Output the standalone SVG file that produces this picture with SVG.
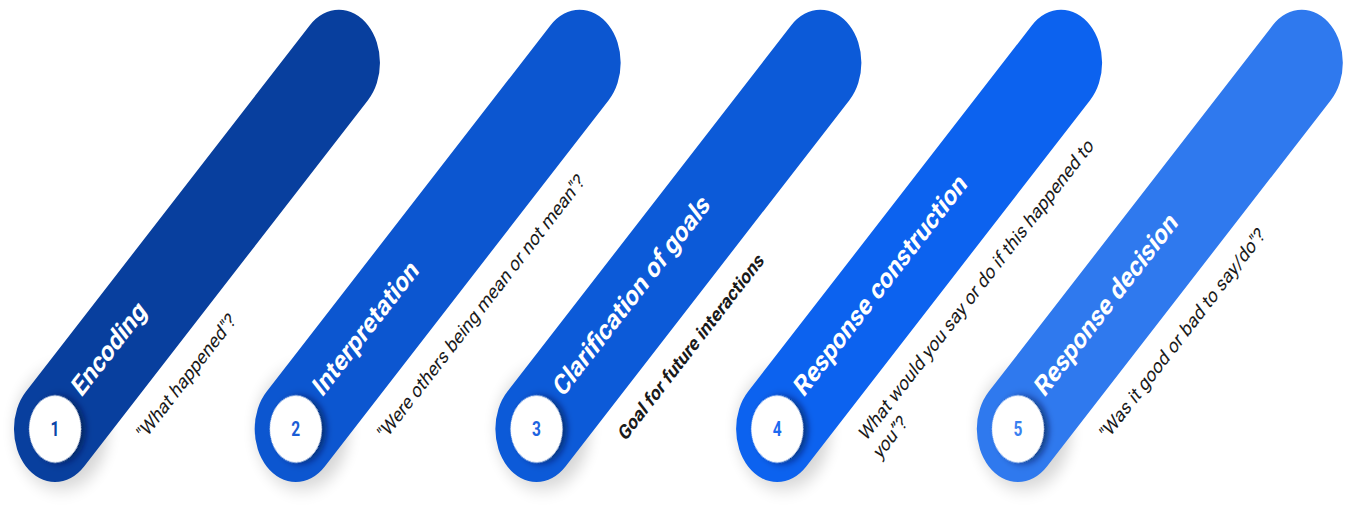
<svg xmlns="http://www.w3.org/2000/svg" width="1347" height="510" viewBox="0 0 1347 510">
<defs>
<filter id="halo" x="-50%" y="-50%" width="200%" height="200%"><feGaussianBlur stdDeviation="9"/></filter>
<filter id="cshadow" x="-50%" y="-50%" width="200%" height="200%"><feDropShadow dx="4" dy="5" stdDeviation="4" flood-color="#001040" flood-opacity="0.6"/></filter>
</defs>
<style>
.title{font-family:Roboto,"Liberation Sans",sans-serif;font-weight:700;font-size:29px;fill:#ffffff}
.quote{font-family:Roboto,"Liberation Sans",sans-serif;font-size:21px;fill:#1a1a1a}
.qb{font-weight:700}
.num{font-family:Roboto,"Liberation Sans",sans-serif;font-weight:700;font-size:20px;text-anchor:middle}
.halo{fill:#000;opacity:0.16}
.disc{fill:#ffffff}
</style>
<rect width="1347" height="510" fill="#ffffff"/>
<g transform="scale(0.775 1)">
<g id="step1" transform="translate(71 429) rotate(-45)">
<circle class="halo" cx="6" cy="6" r="60" filter="url(#halo)"/>
<rect x="-53" y="-53" width="624" height="106" rx="53" fill="#083F9E"/>
<circle class="disc" r="33.5" filter="url(#cshadow)"/>
<text class="num" transform="rotate(45)" y="7" fill="#0A45A8">1</text>
<text class="title" x="46" y="2">Encoding</text>
<text class="quote" x="72" y="90">"What happened"?</text>
</g>
<g id="step2" transform="translate(381.6 429) rotate(-45)">
<circle class="halo" cx="6" cy="6" r="60" filter="url(#halo)"/>
<rect x="-53" y="-53" width="624" height="106" rx="53" fill="#0C56D0"/>
<circle class="disc" r="33.5" filter="url(#cshadow)"/>
<text class="num" transform="rotate(45)" y="7" fill="#1A5DD6">2</text>
<text class="title" x="46" y="2">Interpretation</text>
<text class="quote" x="72" y="90">"Were others being mean or not mean"?</text>
</g>
<g id="step3" transform="translate(692.2 429) rotate(-45)">
<circle class="halo" cx="6" cy="6" r="60" filter="url(#halo)"/>
<rect x="-53" y="-53" width="624" height="106" rx="53" fill="#0C5AD8"/>
<circle class="disc" r="33.5" filter="url(#cshadow)"/>
<text class="num" transform="rotate(45)" y="7" fill="#1C63E0">3</text>
<text class="title" x="46" y="2">Clarification of goals</text>
<text class="quote qb" x="72" y="90">Goal for future interactions</text>
</g>
<g id="step4" transform="translate(1002.8 429) rotate(-45)">
<circle class="halo" cx="6" cy="6" r="60" filter="url(#halo)"/>
<rect x="-53" y="-53" width="624" height="106" rx="53" fill="#0C62EF"/>
<circle class="disc" r="33.5" filter="url(#cshadow)"/>
<text class="num" transform="rotate(45)" y="7" fill="#1E6AF0">4</text>
<text class="title" x="46" y="2">Response construction</text>
<text class="quote" x="72" y="90">What would you say or do if this happened to<tspan x="72" y="116">you”?</tspan></text>
</g>
<g id="step5" transform="translate(1313.4 429) rotate(-45)">
<circle class="halo" cx="6" cy="6" r="60" filter="url(#halo)"/>
<rect x="-53" y="-53" width="624" height="106" rx="53" fill="#2F79EE"/>
<circle class="disc" r="33.5" filter="url(#cshadow)"/>
<text class="num" transform="rotate(45)" y="7" fill="#3A80F0">5</text>
<text class="title" x="46" y="2">Response decision</text>
<text class="quote" x="72" y="90">"Was it good or bad to say/do"?</text>
</g>
</g>
<g id="connectors"/>
</svg>
